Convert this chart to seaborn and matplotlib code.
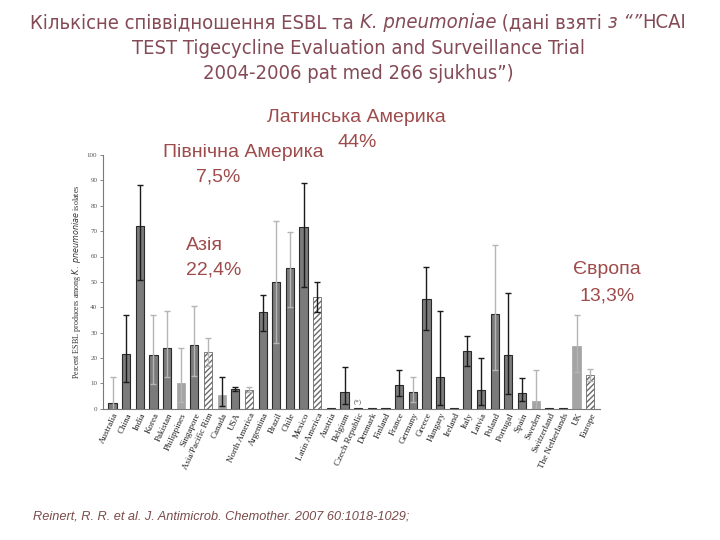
import numpy as np
import pandas as pd
import matplotlib
matplotlib.use('Agg')
import matplotlib.pyplot as plt
import seaborn as sns

countries = ['Australia', 'China', 'India', 'Korea', 'Pakistan', 'Philippines', 'Singapore',
             'Asia/Pacific Rim', 'Canada', 'USA', 'North America', 'Argentina', 'Brazil', 'Chile',
             'Mexico', 'Latin America', 'Austria', 'Belgium', 'Czech Republic', 'Denmark', 'Finland',
             'France', 'Germany', 'Greece', 'Hungary', 'Ireland', 'Italy', 'Latvia', 'Poland',
             'Portugal', 'Spain', 'Sweden', 'Switzerland', 'The Netherlands', 'UK', 'Europe']
esbl = [2.4, 21.4, 72.0, 21.0, 23.8, 10.0, 25.0, 22.3, 5.3, 7.8, 7.4, 38.0, 50.0, 55.3,
        71.5, 43.9, 0.2, 6.8, 0.3, 0.2, 0.2, 9.3, 6.6, 43.1, 12.5, 0.2, 22.7, 7.5, 37.3,
        21.0, 6.4, 3.0, 0.2, 0.2, 24.7, 13.3]
ci_low = [0.0, 10.4, 50.6, 9.6, 12.4, 2.8, 13.1, 17.0, 1.2, 7.2, 6.5, 30.8, 26.1, 40.0,
          47.8, 38.2, 0.2, 1.8, 0.3, 0.2, 0.2, 5.1, 2.8, 30.9, 1.4, 0.2, 17.0, 1.4, 15.1,
          5.9, 3.2, 0.0, 0.2, 0.2, 14.6, 11.0]
ci_high = [12.4, 36.9, 88.0, 37.0, 38.6, 23.8, 40.3, 27.7, 12.7, 8.4, 8.4, 45.0, 74.0, 69.8,
           88.8, 49.8, 0.2, 16.3, 0.3, 0.2, 0.2, 15.2, 12.7, 56.0, 38.4, 0.2, 28.8, 20.2, 64.5,
           45.6, 12.0, 15.1, 0.2, 0.2, 36.8, 15.6]
# d = dark bar, l = light bar, h = hatched regional total
bar_kind = ['d', 'd', 'd', 'd', 'd', 'l', 'd', 'h', 'l', 'd', 'h', 'd', 'd', 'd',
            'd', 'h', 'd', 'd', 'd', 'd', 'd', 'd', 'd', 'd', 'd', 'd', 'd', 'd', 'd',
            'd', 'd', 'l', 'd', 'd', 'l', 'h']
# k = black error bar, g = grey error bar
err_kind = ['g', 'k', 'k', 'g', 'g', 'g', 'g', 'g', 'k', 'k', 'g', 'k', 'g', 'g',
            'k', 'k', 'g', 'k', 'g', 'g', 'g', 'k', 'g', 'k', 'k', 'g', 'k', 'k', 'g',
            'k', 'k', 'g', 'g', 'g', 'g', 'g']
has_err = [v > 1 for v in esbl]

title_color = '#844a55'
note_color = '#9e4b4b'

df = pd.DataFrame({'country': countries, 'esbl': esbl})

sns.set_style('white')
plt.rcParams['font.family'] = ['Liberation Sans', 'DejaVu Sans']

fig = plt.figure(figsize=(7.2, 5.4), dpi=100)
ax = fig.add_axes([0.143, 0.243, 0.69, 0.47])

sns.barplot(data=df, x='country', y='esbl', color='#7b7b7b', width=0.6, ax=ax,
            saturation=1, errorbar=None)

for patch, kind in zip(ax.patches, bar_kind):
    if kind == 'd':
        patch.set_facecolor('#7b7b7b')
        patch.set_edgecolor('#2a2a2a')
        patch.set_linewidth(0.8)
    elif kind == 'l':
        patch.set_facecolor('#a4a4a4')
        patch.set_edgecolor('#a4a4a4')
        patch.set_linewidth(0.5)
    else:
        patch.set_facecolor('white')
        patch.set_hatch('//////')
        patch.set_edgecolor('#6a6a6a')
        patch.set_linewidth(0.6)

xs = np.arange(len(countries))
for ek, col in [('g', '#b5b5b5'), ('k', '#1a1a1a')]:
    idx = [i for i in range(len(countries)) if err_kind[i] == ek and has_err[i]]
    vals = np.array([esbl[i] for i in idx])
    lo = vals - np.array([ci_low[i] for i in idx])
    hi = np.array([ci_high[i] for i in idx]) - vals
    ax.errorbar(xs[idx], vals, yerr=[lo, hi], fmt='none', ecolor=col,
                elinewidth=1.0, capsize=2.2, capthick=1.0)

ax.text(countries.index('Czech Republic'), 1.5, '(*)', ha='center', va='bottom',
        fontsize=5, family='Liberation Serif', color='#444444')

ax.set_xlim(-0.7, len(countries) - 0.3)
ax.set_ylim(0, 100)
ax.set_yticks(range(0, 101, 10))
ax.tick_params(axis='y', labelsize=5, length=2, width=0.5, colors='#555555', pad=2, left=True)
ax.tick_params(axis='x', labelsize=6.5, length=0, pad=2)
for lab in ax.get_yticklabels():
    lab.set_family('Liberation Serif')
ax.set_xticks(xs)
ax.set_xticklabels(countries, rotation=65, ha='right', rotation_mode='anchor',
                   family='Liberation Serif', color='#222222')
ax.set_xlabel('')
ax.set_ylabel('Percent ESBL producers among $\\it{K.\\ pneumoniae}$ isolates',
              fontsize=5.8, family='Liberation Serif', color='#333333', labelpad=3)
for s in ['top', 'right']:
    ax.spines[s].set_visible(False)
for s in ['left', 'bottom']:
    ax.spines[s].set_color('#7a7a7a')
    ax.spines[s].set_linewidth(0.8)

# title made of plain and italic pieces
title_lines = [
    [('Кількісне співвідношення ESBL та ', 'normal'), ('K. pneumoniae', 'italic'),
     (' (дані взяті ', 'normal'), ('з “”', 'italic'), ('HCAI', 'normal')],
    [('TEST Tigecycline Evaluation and Surveillance Trial', 'normal')],
    [('2004-2006 pat med 266 sjukhus”)', 'normal')],
]
title_y = [0.958, 0.911, 0.864]
fig.canvas.draw()
renderer = fig.canvas.get_renderer()
for pieces, y in zip(title_lines, title_y):
    texts = []
    for s, style in pieces:
        t = fig.text(0, y, s, fontsize=14.5, style=style, color=title_color,
                     ha='left', va='center', family='DejaVu Sans', stretch='condensed')
        texts.append(t)
    widths = [t.get_window_extent(renderer).width for t in texts]
    total = sum(widths)
    x0 = (358 - total / 2) / 720
    for t, w in zip(texts, widths):
        t.set_x(x0)
        x0 += w / 720

notes = [
    ('Латинська Америка', 0.495, 0.782, 'center'),
    ('44%', 0.496, 0.736, 'center'),
    ('Північна Америка', 0.338, 0.717, 'center'),
    ('7,5%', 0.303, 0.672, 'center'),
    ('Азія', 0.258, 0.546, 'left'),
    ('22,4%', 0.258, 0.500, 'left'),
    ('Європа', 0.843, 0.500, 'center'),
    ('13,3%', 0.843, 0.452, 'center'),
]
for s, x, y, ha in notes:
    fig.text(x, y, s, fontsize=14, color=note_color, ha=ha, va='center')

fig.text(0.046, 0.044, 'Reinert, R. R. et al. J. Antimicrob. Chemother. 2007 60:1018-1029;',
         fontsize=9.2, style='italic', color='#7a4a4a', ha='left', va='center')

fig.savefig('out.png', dpi=100)
